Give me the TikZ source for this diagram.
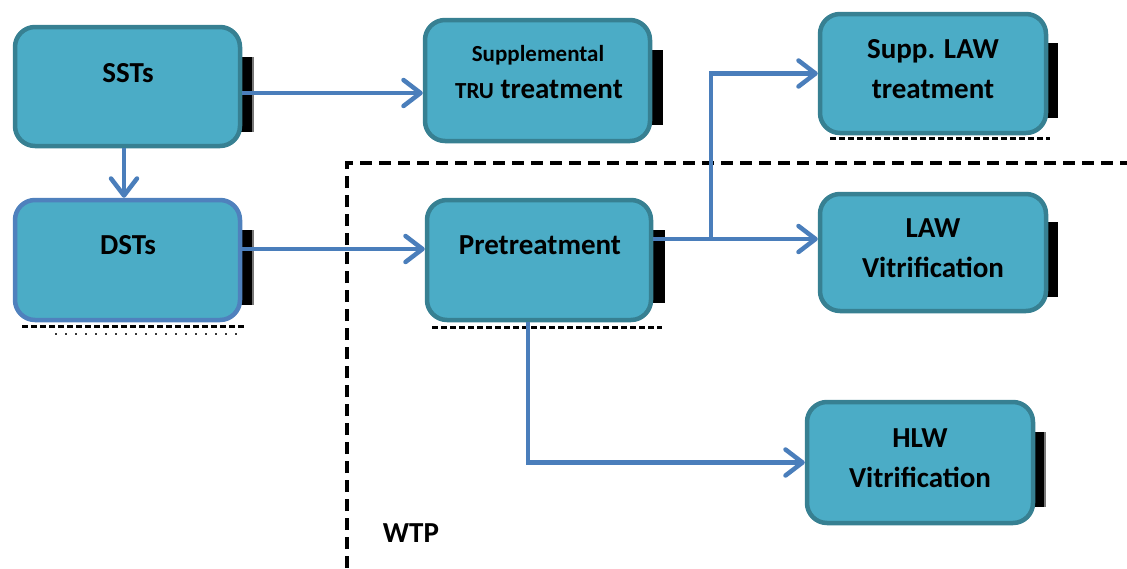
\documentclass[tikz,border=0pt]{standalone}
\usepackage{fontspec}
\setmainfont{Carlito}
\usetikzlibrary{arrows.meta}
\definecolor{boxfill}{RGB}{75,172,198}
\definecolor{boxline}{RGB}{55,128,146}
\definecolor{dstline}{RGB}{79,129,189}
\definecolor{arrcol}{RGB}{74,126,187}
\definecolor{bargray}{RGB}{120,120,120}
\tikzset{
  box/.style={draw=boxline, fill=boxfill, line width=4.5pt, rounded corners=20pt, inner sep=0pt},
  lbl/.style={anchor=base, font=\bfseries\fontsize{29}{31}\selectfont, inner sep=0pt},
  lblsmall/.style={anchor=base, font=\bfseries\fontsize{23}{25}\selectfont, inner sep=0pt},
  arr/.style={draw=arrcol, line width=4.5pt, -{Straight Barb[length=17pt,width=26pt,line width=4.5pt,round]}},
  wtpline/.style={draw=black, line width=4.5pt, dash pattern=on 12pt off 7pt},
  shadowdash/.style={draw=black, line width=3pt, dash pattern=on 6pt off 3pt},
  shadowdot/.style={draw=black!80, line width=2pt, dash pattern=on 2pt off 8pt},
  sidebar/.style={fill=black}
}
\begin{document}
\begin{tikzpicture}[x=1pt,y=-1pt]
\useasboundingbox (0,0) rectangle (1127,568);
% WTP boundary
\draw[wtpline] (347,568) -- (347,163) -- (1127,163);
% shadows (dotted artifacts)
\draw[shadowdash] (22,326) -- (246,326);
\draw[shadowdot] (55,334) -- (240,334);
\draw[shadowdash] (432,327) -- (662,327);
\draw[shadowdash] (830,138) -- (1050,138);
% side bars
\fill[sidebar] (240,57) rectangle (252,132);  \fill[bargray] (252,57) rectangle (254,132);
\fill[sidebar] (240,230) rectangle (252,305); \fill[bargray] (252,230) rectangle (254,305);
\fill[sidebar] (650,50) rectangle (663,125);
\fill[sidebar] (650,230) rectangle (665,303);
\fill[sidebar] (1046,43) rectangle (1058,118);
\fill[sidebar] (1046,222) rectangle (1058,297);
\fill[sidebar] (1033,432) rectangle (1044,507); \fill[bargray] (1044,432) rectangle (1046,507);
% boxes
\node[box, minimum width=225pt, minimum height=119pt] (sst) at (127.5,86.5) {};
\node[box, draw=dstline, minimum width=225pt, minimum height=120pt] (dst) at (127.5,260) {};
\node[box, minimum width=225pt, minimum height=121pt] (tru) at (537.5,80.5) {};
\node[box, minimum width=224pt, minimum height=120pt] (pre) at (539,260) {};
\node[box, minimum width=226pt, minimum height=119pt] (slaw) at (933,73.5) {};
\node[box, minimum width=226pt, minimum height=117pt] (law) at (933,252.5) {};
\node[box, minimum width=226pt, minimum height=121pt] (hlw) at (920,462.5) {};
% labels
\node[lbl] (sstt) at (128,82) {SSTs};
\node[lbl] (dstt) at (128,254) {DSTs};
\node[lblsmall] (trua) at (538,61) {Supplemental};
\node[lbl] (trub) at (539,98) {{\fontsize{23}{25}\selectfont TRU} treatment};
\node[lbl] (pret) at (540,254) {Pretreatment};
\node[lbl] (slawa) at (933,58) {Supp. LAW};
\node[lbl] (slawb) at (933,98) {treatment};
\node[lbl] (lawa) at (933,237) {LAW};
\node[lbl] (lawb) at (933,277) {Vitrification};
\node[lbl] (hlwa) at (920,447) {HLW};
\node[lbl] (hlwb) at (920,487) {Vitrification};
\node[lbl] (wtp) at (411,542) {WTP};
% helper coordinates
\coordinate (y93) at (0,93);
\coordinate (y249) at (0,249);
\coordinate (y239) at (0,239);
\coordinate (x124) at (124,0);
\coordinate (x528) at (528,0);
\coordinate (br) at (711,239);
% connectors
\draw[arr] (sst.east |- y93) -- (tru.west |- y93);
\draw[arr] (x124 |- sst.south) -- (x124 |- dst.north);
\draw[arr] (dst.east |- y249) -- (pre.west |- y249);
\draw[arr] (pre.east |- y239) -- (law.west |- y239);
\draw[arr] (br) |- (slaw.west);
\draw[arr] (x528 |- pre.south) |- (hlw.west);
\end{tikzpicture}
\end{document}
